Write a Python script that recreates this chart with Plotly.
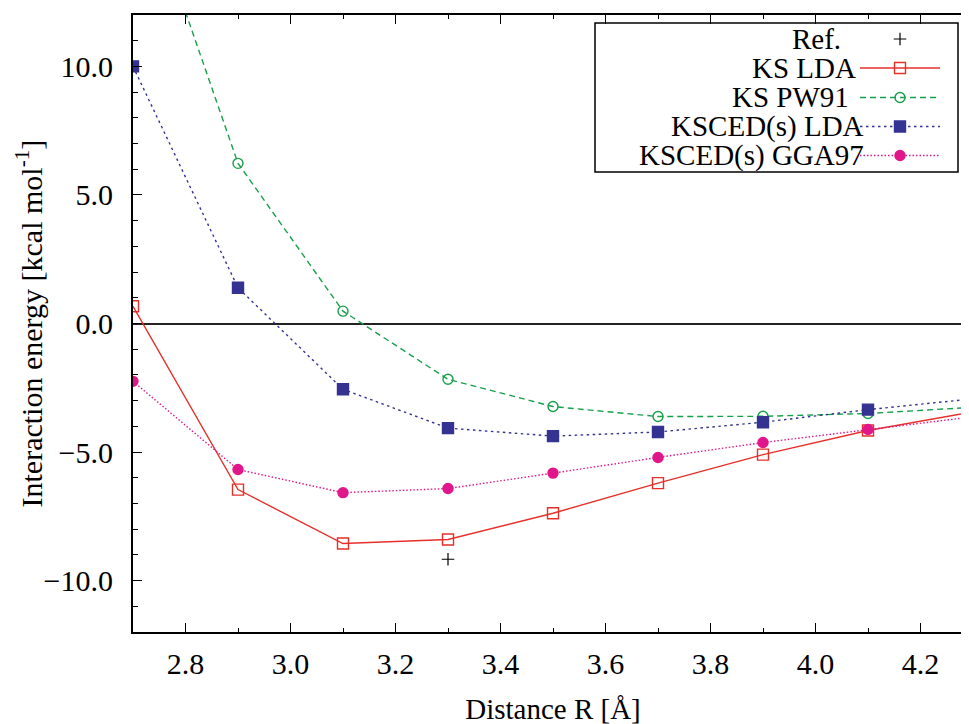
import plotly.graph_objects as go

# ---- data ----
R = [2.7, 2.9, 3.1, 3.3, 3.5, 3.7, 3.9, 4.1, 4.3]
KS_LDA = [0.67, -6.46, -8.56, -8.40, -7.38, -6.21, -5.10, -4.16, -3.44]
KS_PW91 = [18.0, 6.23, 0.48, -2.17, -3.23, -3.62, -3.61, -3.50, -3.26]
KSCED_LDA = [10.0, 1.39, -2.56, -4.07, -4.38, -4.22, -3.84, -3.35, -2.93]
KSCED_GGA97 = [-2.25, -5.68, -6.58, -6.42, -5.82, -5.21, -4.63, -4.12, -3.63]
REF_R = [3.3]
REF_E = [-9.17]

names = ["Ref.", "KS LDA", "KS PW91", "KSCED(s) LDA", "KSCED(s) GGA97"]

W, H = 969, 724
OFF = 8  # page body margin
ML, MR, MT, MB = 125, 4, 7, 100
XR = [2.7, 4.3]
YR = [-12, 12]
FONT = "Liberation Serif, Times New Roman, serif"

RED = "#e5302a"
GREEN = "#17a04a"
BLUE = "#343392"
MAG = "#e0178a"

styles = [
    dict(color=RED, dash="solid", symbol="square-open", size=11, lw=1.4),
    dict(color=GREEN, dash="6px,4px", symbol="circle-open", size=10, lw=1.4),
    dict(color=BLUE, dash="2.5px,3.5px", symbol="square", size=11, lw=1.4),
    dict(color=MAG, dash="1.5px,2px", symbol="circle", size=10, lw=1.4),
]
series = [KS_LDA, KS_PW91, KSCED_LDA, KSCED_GGA97]

fig = go.Figure()
for s, st, nm in zip(series, styles, names[1:]):
    fig.add_trace(go.Scatter(
        x=R, y=s, mode="lines+markers", name=nm, showlegend=False,
        line=dict(color=st["color"], dash=st["dash"], width=st["lw"]),
        marker=dict(symbol=st["symbol"], size=st["size"], color=st["color"],
                    line=dict(color=st["color"], width=1.4)),
    ))

fig.add_trace(go.Scatter(
    x=REF_R, y=REF_E, mode="markers", name="Ref.", showlegend=False,
    marker=dict(symbol="cross-thin", size=9, color="black", line=dict(color="black", width=1.2)),
))

# ---- manual legend (text left, key right, like the reference); positions in screen px ----
pw = W - ML - MR
ph = H - MT - MB
def px2x(px):
    return XR[0] + (px - OFF - ML) / pw * (XR[1] - XR[0])
def py2y(py):
    return YR[1] - (py - OFF - MT) / ph * (YR[1] - YR[0])
def px2paper(px):
    return (px - OFF - ML) / pw
def py2paper(py):
    return 1 - (py - OFF - MT) / ph

fig.add_shape(type="rect", xref="paper", yref="paper",
              x0=px2paper(595), x1=px2paper(958), y0=py2paper(172), y1=py2paper(23),
              line=dict(color="black", width=1.5), fillcolor="white", layer="below")

row_y = [39, 68, 97.5, 126.5, 155.5]
text_right = [843, 858, 851, 866, 866]
for nm, ry, tr in zip(names, row_y, text_right):
    fig.add_annotation(xref="paper", yref="paper", x=px2paper(tr), y=py2paper(ry),
                       text=nm, showarrow=False, xanchor="right", yanchor="middle",
                       font=dict(family=FONT, size=29, color="black"))

fig.add_trace(go.Scatter(x=[px2x(900)], y=[py2y(row_y[0])], mode="markers", showlegend=False,
                         hoverinfo="skip", cliponaxis=False,
                         marker=dict(symbol="cross-thin", size=9, color="black",
                                     line=dict(color="black", width=1.2))))
for st, ry in zip(styles, row_y[1:]):
    fig.add_trace(go.Scatter(
        x=[px2x(860), px2x(940)], y=[py2y(ry)] * 2, mode="lines",
        showlegend=False, hoverinfo="skip", cliponaxis=False,
        line=dict(color=st["color"], dash=st["dash"], width=st["lw"]),
    ))
    fig.add_trace(go.Scatter(
        x=[px2x(900)], y=[py2y(ry)], mode="markers",
        showlegend=False, hoverinfo="skip", cliponaxis=False,
        marker=dict(symbol=st["symbol"], size=st["size"], color=st["color"],
                    line=dict(color=st["color"], width=1.4)),
    ))

# y-axis title as a rotated annotation
fig.add_annotation(xref="paper", yref="paper", x=px2paper(29), y=py2paper(323.5),
                   text="Interaction energy [kcal mol<sup>-1</sup>]", textangle=-90,
                   showarrow=False, xanchor="center", yanchor="middle",
                   font=dict(family=FONT, size=30, color="black"))

tickfont = dict(family=FONT, size=30, color="black")
fig.update_layout(
    width=W, height=H,
    margin=dict(l=ML, r=MR, t=MT, b=MB, pad=0, autoexpand=False),
    paper_bgcolor="white", plot_bgcolor="white",
    font=dict(family=FONT, size=29, color="black"),
    xaxis=dict(
        range=XR, showgrid=False, zeroline=False, automargin=False,
        showline=True, linecolor="black", linewidth=1.8, mirror="ticks",
        ticks="inside", ticklen=9, tickwidth=1.3, tickcolor="black",
        dtick=0.2, tick0=2.8, tickformat=".1f", tickfont=tickfont,
        ticklabelstandoff=4,
        minor=dict(dtick=0.1, tick0=2.7, ticks="inside", ticklen=4.5, tickwidth=1.3, tickcolor="black"),
        title=dict(text="Distance R [Å]", font=dict(family=FONT, size=29, color="black"), standoff=20),
    ),
    yaxis=dict(
        range=YR, showgrid=False, automargin=False,
        zeroline=True, zerolinecolor="#222222", zerolinewidth=1.6,
        showline=True, linecolor="black", linewidth=2.2, mirror="ticks",
        ticks="inside", ticklen=9, tickwidth=1.3, tickcolor="black",
        dtick=5, tick0=0, tickformat=".1f", tickfont=tickfont,
        ticklabelstandoff=12,
        minor=dict(dtick=1, tick0=0, ticks="inside", ticklen=4.5, tickwidth=1.3, tickcolor="black"),
    ),
)

fig.write_html("out.html")
